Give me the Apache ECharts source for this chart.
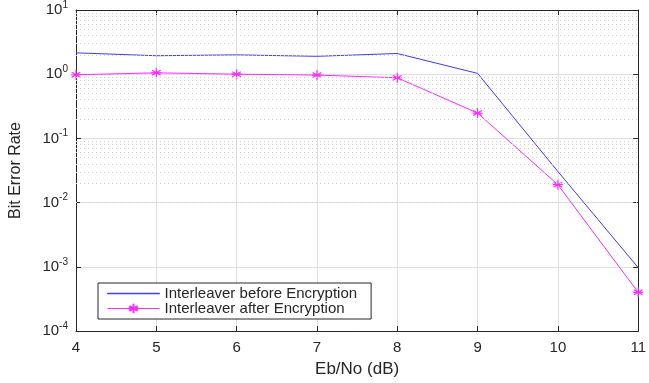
<!DOCTYPE html>
<html>
<head>
<meta charset="utf-8">
<script src="https://cdn.jsdelivr.net/npm/echarts@6/dist/echarts.min.js"></script>
<style>
html,body{margin:0;padding:0;background:#fff;}
#chart{width:649px;height:383px;}
</style>
</head>
<body>
<div id="chart"></div>
<script>
// Eb/No sweep and measured bit error rates
const ebno = [4, 5, 6, 7, 8, 9, 10, 11];
const berBefore = [2.15, 1.94, 2.0, 1.9, 2.1, 1.03, 0.0305, 0.00097];
const berAfter = [0.98, 1.05, 1.0, 0.97, 0.88, 0.248, 0.019, 0.0004];
const xTicks = [4, 5, 6, 7, 8, 9, 10, 11];
const yDecades = [-4, -3, -2, -1, 0, 1];

const FONT = 'Liberation Sans, Arial, sans-serif';
const TXT = '#262626';
const BLUE = '#3b3bff';
const MAGENTA = '#ff2bff';

// dotted minor grid at 2..9 x 10^k
const minorVals = [];
for (let k = yDecades[0]; k < yDecades[yDecades.length - 1]; k++) {
  for (let m = 2; m <= 9; m++) minorVals.push(m * Math.pow(10, k));
}

const asterisk = 'path://M0,-5L0,5M-4.33,-2.5L4.33,2.5M-4.33,2.5L4.33,-2.5M-5,0L5,0';
const plainLine = 'path://M0,0H52V0.5H0Z';

const chart = echarts.init(document.getElementById('chart'), null, {renderer: 'canvas'});
chart.setOption({
  animation: false,
  backgroundColor: '#fff',
  grid: {left: 73, right: 8, top: 7, bottom: 46, containLabel: false},
  xAxis: [{
    type: 'value', min: xTicks[0], max: xTicks[xTicks.length - 1], interval: 1,
    name: 'Eb/No (dB)', nameLocation: 'middle', nameGap: 30,
    nameTextStyle: {color: TXT, fontSize: 17, fontFamily: FONT},
    axisLine: {lineStyle: {color: TXT, width: 1}},
    axisTick: {inside: true, length: 5, lineStyle: {color: TXT}},
    axisLabel: {color: TXT, fontSize: 15, fontFamily: FONT, margin: 9},
    splitLine: {show: true, lineStyle: {color: '#e0e0e0', width: 1}}
  }, {
    type: 'value', min: xTicks[0], max: xTicks[xTicks.length - 1], interval: 1, position: 'top',
    axisLine: {show: true, lineStyle: {color: TXT, width: 1}},
    axisTick: {inside: true, length: 5, lineStyle: {color: TXT}},
    axisLabel: {show: false}, splitLine: {show: false}
  }],
  yAxis: [{
    type: 'log', logBase: 10, min: 1e-4, max: 10,
    name: 'Bit Error Rate', nameLocation: 'middle', nameGap: 52,
    nameTextStyle: {color: TXT, fontSize: 16, fontFamily: FONT},
    axisLine: {show: true, lineStyle: {color: TXT, width: 1}},
    axisTick: {inside: true, length: 5, lineStyle: {color: TXT}},
    axisLabel: {
      margin: 8,
      formatter: v => '{b|10}{s|' + Math.round(Math.log10(v)) + '}',
      rich: {
        b: {color: TXT, fontSize: 15, fontFamily: FONT},
        s: {color: TXT, fontSize: 10, fontFamily: FONT, padding: [0, 0, 10, 0]}
      }
    },
    splitLine: {show: true, lineStyle: {color: '#e0e0e0', width: 1}}
  }, {
    type: 'log', logBase: 10, min: 1e-4, max: 10, position: 'right',
    axisLine: {show: true, lineStyle: {color: TXT, width: 1}},
    axisTick: {inside: true, length: 5, lineStyle: {color: TXT}},
    axisLabel: {show: false}, splitLine: {show: false}
  }],
  legend: {
    orient: 'vertical', left: 98, top: 283,
    padding: [3, 14, 3, 9], itemGap: 0,
    itemWidth: 52, itemHeight: 12,
    backgroundColor: '#fff', borderColor: TXT, borderWidth: 1, borderRadius: 0,
    textStyle: {color: TXT, fontSize: 15, fontFamily: FONT, lineHeight: 15},
    data: [
      {name: 'Interleaver before Encryption', icon: plainLine,
       itemStyle: {color: BLUE, borderColor: BLUE, borderWidth: 1}},
      {name: 'Interleaver after Encryption', lineStyle: {width: 1}}
    ]
  },
  series: [{
    name: 'minor-grid', type: 'line', data: [], silent: true,
    markLine: {
      silent: true, symbol: 'none', label: {show: false},
      lineStyle: {color: '#cfcfcf', type: [1, 3], width: 1},
      data: minorVals.map(v => ({yAxis: v}))
    }
  }, {
    name: 'Interleaver before Encryption', type: 'line',
    data: ebno.map((x, i) => [x, berBefore[i]]),
    symbol: 'none',
    lineStyle: {color: BLUE, width: 1},
    itemStyle: {color: BLUE}
  }, {
    name: 'Interleaver after Encryption', type: 'line',
    data: ebno.map((x, i) => [x, berAfter[i]]),
    symbol: asterisk, symbolSize: 10,
    lineStyle: {color: MAGENTA, width: 1},
    itemStyle: {color: 'none', borderColor: MAGENTA, borderWidth: 1.2}
  }]
});
</script>
</body>
</html>
